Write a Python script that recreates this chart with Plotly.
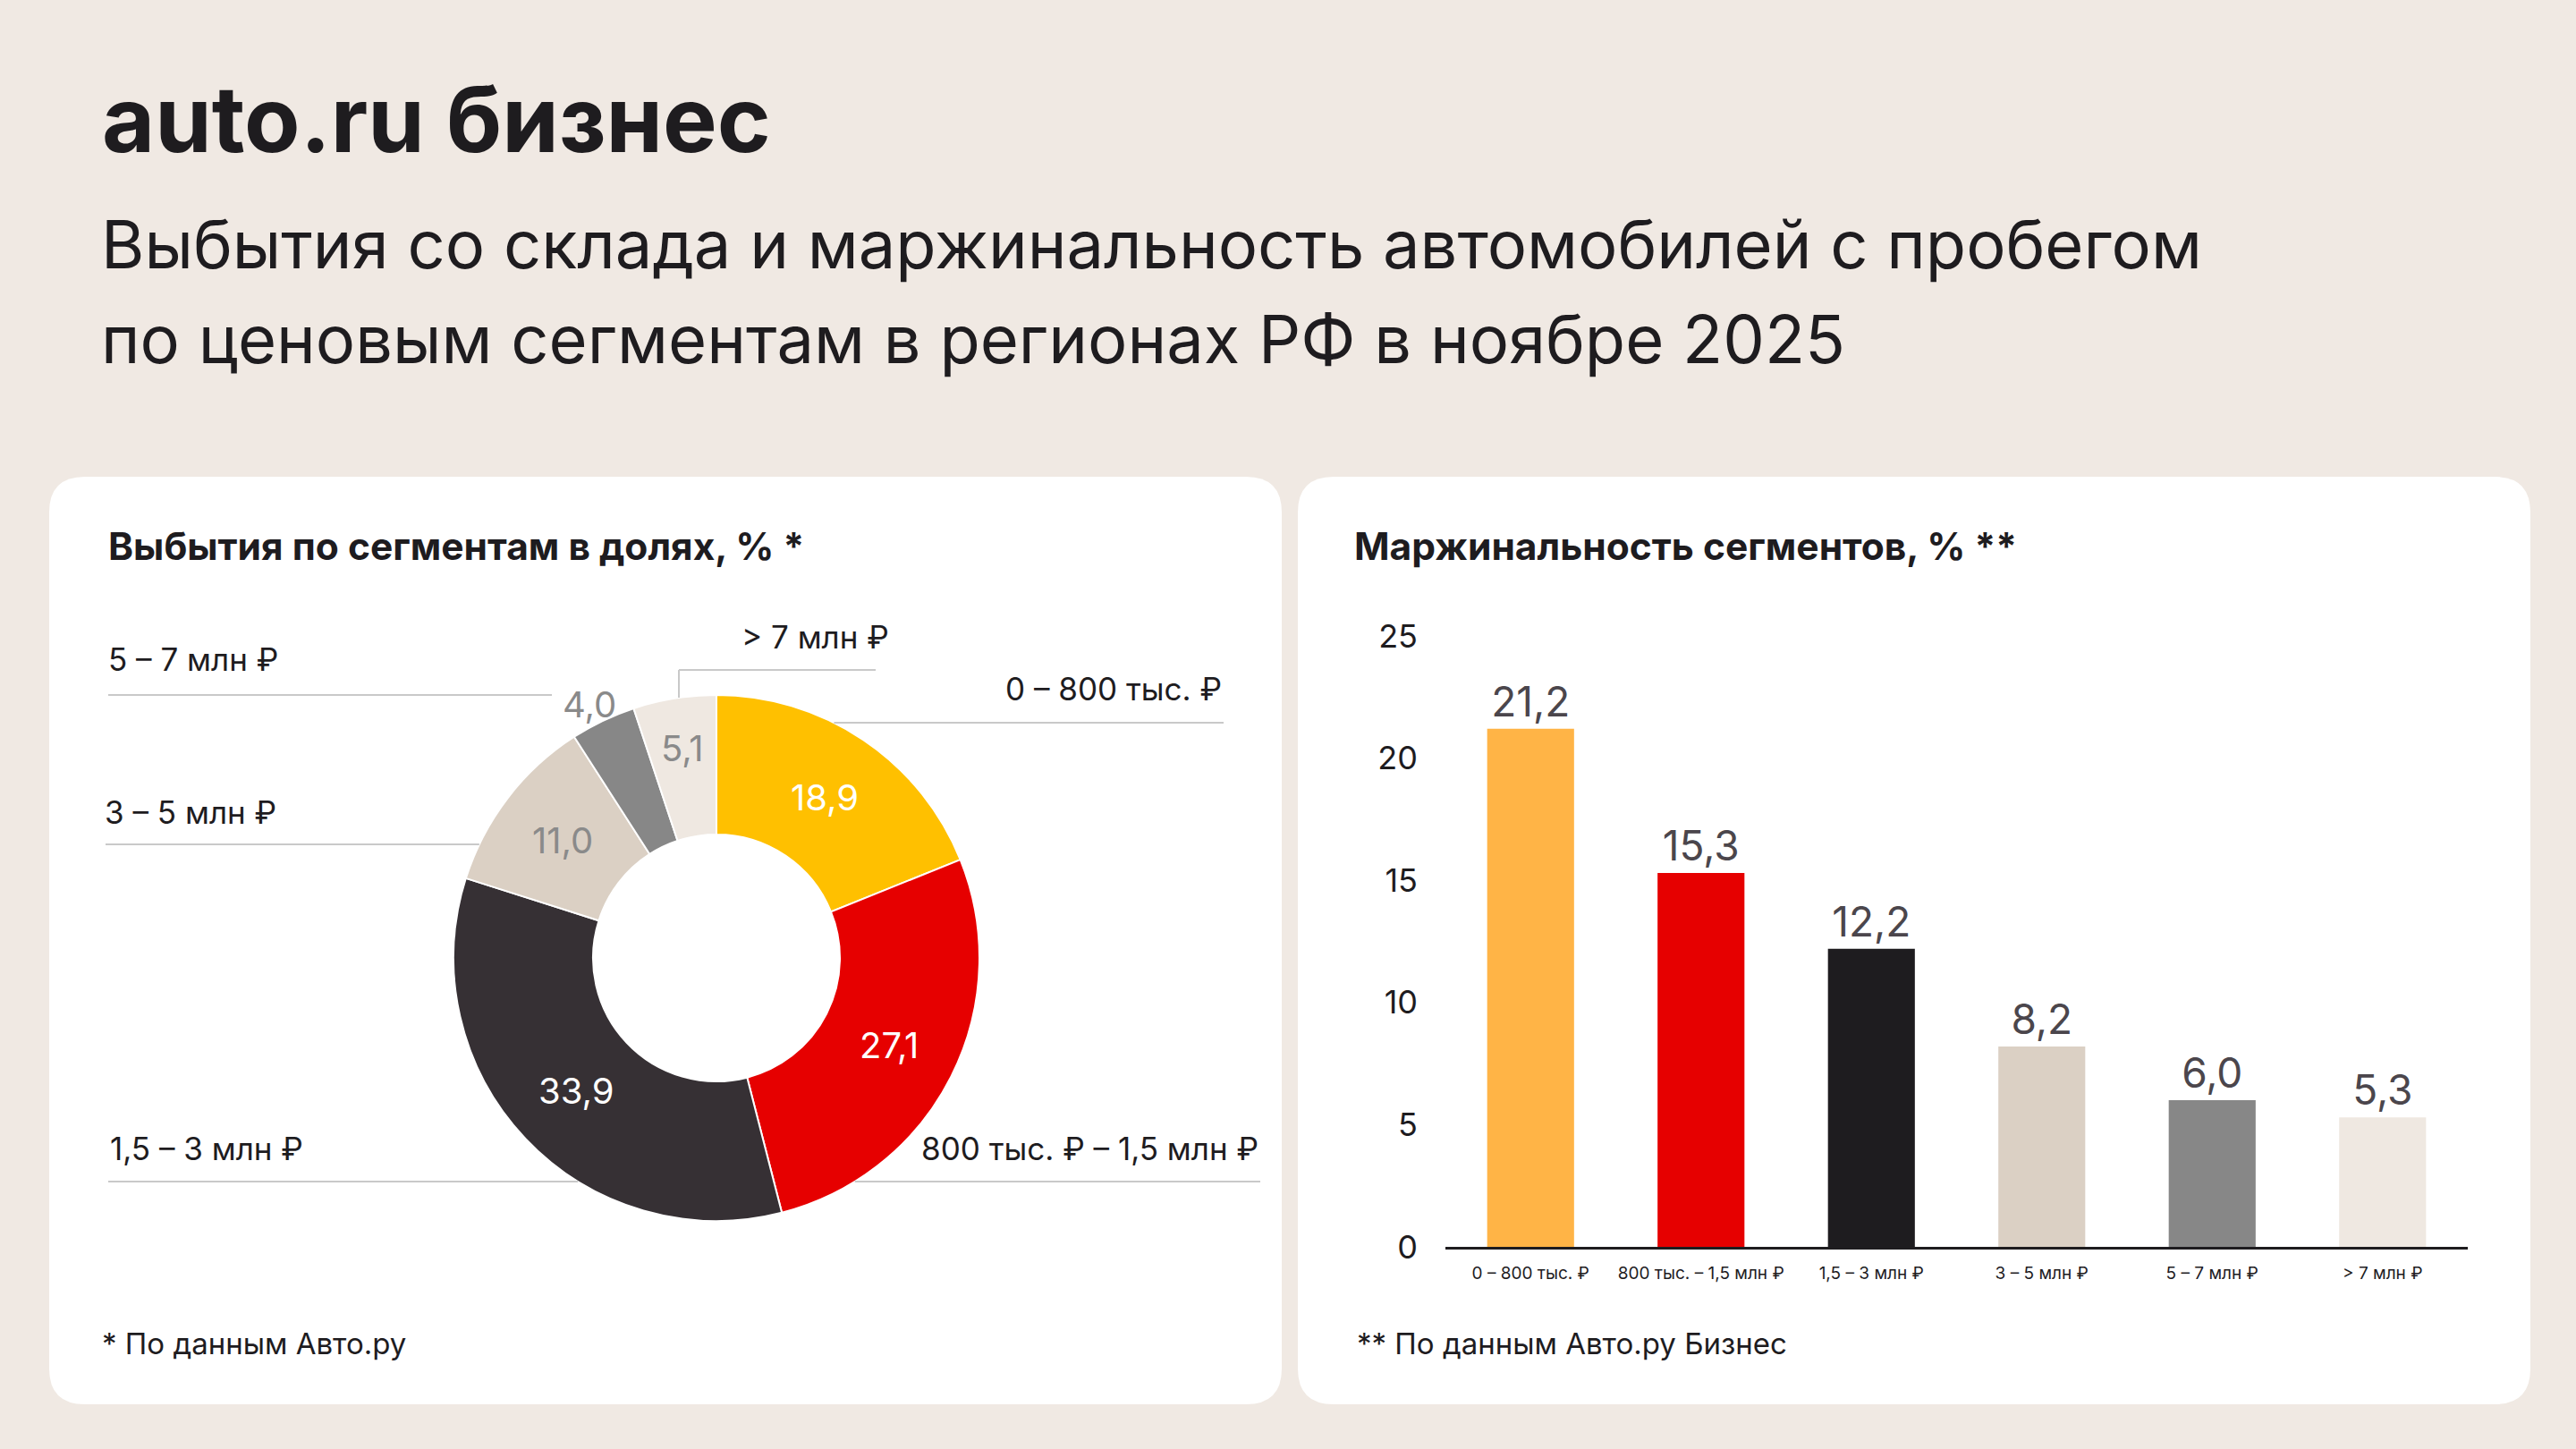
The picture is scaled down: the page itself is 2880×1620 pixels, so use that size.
import math
import plotly.graph_objects as go

W, H = 2880, 1620

# ---------------- data ----------------
pie_labels = ["0 – 800 тыс. ₽", "800 тыс. ₽ – 1,5 млн ₽", "1,5 – 3 млн ₽",
              "3 – 5 млн ₽", "5 – 7 млн ₽", "> 7 млн ₽"]
pie_values = [18.9, 27.1, 33.9, 11.0, 4.0, 5.1]
pie_colors = ["#FFC000", "#E60000", "#363034", "#DBD0C4", "#878787", "#EFE8E1"]
pie_text_colors = ["#FFFFFF", "#FFFFFF", "#FFFFFF", "#8A8A8A", "#8A8A8A", "#8A8A8A"]

bar_categories = ["0 – 800 тыс. ₽", "800 тыс. – 1,5 млн ₽", "1,5 – 3 млн ₽",
                  "3 – 5 млн ₽", "5 – 7 млн ₽", "> 7 млн ₽"]
bar_values = [21.2, 15.3, 12.2, 8.2, 6.0, 5.3]
bar_colors = ["#FFB446", "#E60000", "#1E1C1F", "#DBD0C4", "#878787", "#EFE8E1"]
y_ticks = [0, 5, 10, 15, 20, 25]

FONT = "Inter"
DARK = "#1E1C1F"


def px(x):
    return x / W


def py(y):
    return 1 - y / H


def fmt(v):
    return f"{v:.1f}".replace(".", ",")


fig = go.Figure()

# ---------------- donut ----------------
cx, cy, R, r_in = 801, 1071, 294, 138
fig.add_trace(go.Pie(
    values=pie_values, labels=pie_labels,
    marker=dict(colors=pie_colors, line=dict(color="#FFFFFF", width=2)),
    hole=r_in / R, sort=False, direction="clockwise", rotation=0,
    textinfo="none", hoverinfo="label+value", showlegend=False,
    domain=dict(x=[px(cx - R), px(cx + R)], y=[py(cy + R), py(cy - R)]),
))

annotations = []
cum = 0.0
label_r = {5: 238, 4: 322}
for i, v in enumerate(pie_values):
    mid = (cum + v / 2) / 100 * 2 * math.pi
    cum += v
    rr = label_r.get(i, (R + r_in) / 2)
    tx = cx + rr * math.sin(mid)
    ty = cy - rr * math.cos(mid)
    if i == 4:
        tx -= 3
        ty += 7
    annotations.append(dict(
        x=px(tx), y=py(ty), xref="paper", yref="paper", text=fmt(v),
        showarrow=False, xanchor="center", yanchor="middle",
        font=dict(family=FONT, size=40, color=pie_text_colors[i])))

# pie outside labels with leader lines
LINE = "#C9C9C9"
shapes = []


def hline(x0, x1, y):
    shapes.append(dict(type="line", xref="paper", yref="paper",
                       x0=px(x0), x1=px(x1), y0=py(y), y1=py(y),
                       line=dict(color=LINE, width=2)))


def edge_x(y, side):
    dy = y - cy
    return cx + side * math.sqrt(max(R * R - dy * dy, 0))


hline(edge_x(808, 1), 1368, 808)
hline(edge_x(1321, 1), 1409, 1321)
hline(121, edge_x(1321, -1), 1321)
hline(118, edge_x(944, -1), 944)
hline(121, 617, 777)
hline(759, 979, 749)
shapes.append(dict(type="line", xref="paper", yref="paper",
                   x0=px(759), x1=px(759), y0=py(749), y1=py(780),
                   line=dict(color=LINE, width=2)))

side_labels = [
    (pie_labels[0], 1368, 770, "right"),
    (pie_labels[1], 1409, 1284, "right"),
    (pie_labels[2], 121, 1284, "left"),
    (pie_labels[3], 115, 908, "left"),
    (pie_labels[4], 119, 737, "left"),
    (pie_labels[5], 827, 712, "left"),
]
for t, x, y, anc in side_labels:
    annotations.append(dict(x=px(x), y=py(y), xref="paper", yref="paper",
                            text=t, showarrow=False, xanchor=anc, yanchor="middle",
                            font=dict(family=FONT, size=35, color=DARK)))

# ---------------- bars ----------------
fig.add_trace(go.Bar(
    x=bar_categories, y=bar_values, marker=dict(color=bar_colors, line=dict(width=0)),
    text=[fmt(v) for v in bar_values], textposition="outside", cliponaxis=False,
    textfont=dict(family=FONT, size=46, color="#4B464C"),
    xaxis="x", yaxis="y", showlegend=False, width=0.51,
))

# ---------------- cards ----------------
def card(x0, y0, x1, y1, rad=40):
    rx, ry = rad / W, rad / H
    X0, X1, Y0, Y1 = px(x0), px(x1), py(y0), py(y1)
    path = (f"M {X0+rx},{Y0} L {X1-rx},{Y0} Q {X1},{Y0} {X1},{Y0-ry} "
            f"L {X1},{Y1+ry} Q {X1},{Y1} {X1-rx},{Y1} L {X0+rx},{Y1} "
            f"Q {X0},{Y1} {X0},{Y1+ry} L {X0},{Y0-ry} Q {X0},{Y0} {X0+rx},{Y0} Z")
    return dict(type="path", xref="paper", yref="paper", path=path,
                fillcolor="#FFFFFF", line=dict(width=0), layer="below")


shapes.insert(0, card(55, 533, 1433, 1570))
shapes.insert(0, card(1451, 533, 2829, 1570))

# ---------------- texts ----------------
texts = [
    ("auto.ru бизнес", 112, 133, 102, True),
    ("Выбытия со склада и маржинальность автомобилей с пробегом", 111, 273, 74, False),
    ("по ценовым сегментам в регионах РФ в ноябре 2025", 111, 379, 74, False),
    ("Выбытия по сегментам в долях, % *", 119, 610, 42.5, True),
    ("Маржинальность сегментов, % **", 1512, 610, 42.5, True),
    ("* По данным Авто.ру", 112, 1502, 33, False),
    ("** По данным Авто.ру Бизнес", 1515, 1502, 33, False),
]
for t, x, y, s, b in texts:
    annotations.append(dict(x=px(x), y=py(y), xref="paper", yref="paper",
                            text=f"<b>{t}</b>" if b else t, showarrow=False,
                            xanchor="left", yanchor="middle",
                            font=dict(family=FONT, size=s, color=DARK)))

fig.update_layout(
    width=W, height=H, margin=dict(l=0, r=0, t=0, b=0, pad=0),
    autosize=False,
    paper_bgcolor="#F0E9E3", plot_bgcolor="rgba(0,0,0,0)",
    separators=", ",
    shapes=shapes, annotations=annotations,
    xaxis=dict(domain=[px(1616), px(2759)], showline=True, linecolor=DARK, linewidth=3,
               showgrid=False, zeroline=False, ticks="", automargin=False,
               ticklabelstandoff=10,
               tickfont=dict(family=FONT, size=19, color=DARK)),
    yaxis=dict(domain=[py(1394), py(711)], range=[0, 25], tickvals=y_ticks,
               showgrid=False, zeroline=False, showline=False, ticks="",
               ticklabelstandoff=30, automargin=False,
               tickfont=dict(family=FONT, size=36, color=DARK)),
    font=dict(family=FONT),
)

fig.write_html(
    "out.html",
    config={"responsive": False, "displayModeBar": False},
    post_script="document.body.style.margin='0';document.body.style.overflow='hidden';",
)
